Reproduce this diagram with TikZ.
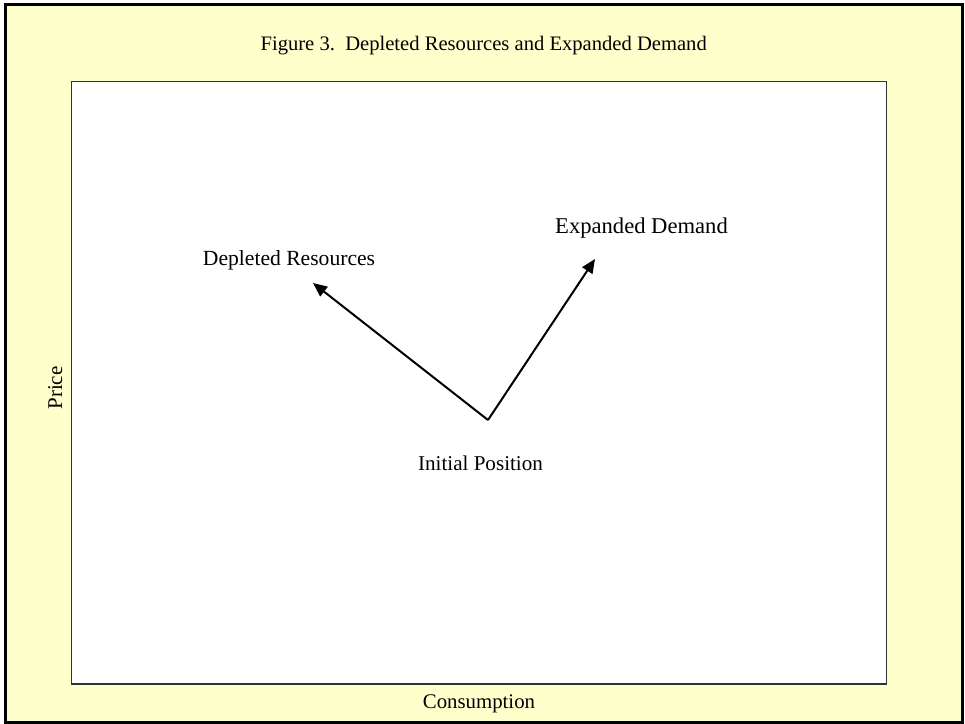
\documentclass[tikz,border=0pt]{standalone}
\usepackage{fontspec}
\setmainfont{Liberation Serif}
\usepackage{tikz}
\usetikzlibrary{arrows.meta,positioning}

\definecolor{paleyellow}{HTML}{FFFFCC}

\begin{document}
\begin{tikzpicture}[x=1pt,y=-1pt]
    \tikzstyle{chart text}=[inner sep=0pt,anchor=base];
    \tikzstyle{move}=[line width=2pt,-{Triangle[length=14pt,width=12pt]}];
    \useasboundingbox (0,0) rectangle (965,723);

    % Draw the outer frame and the plot area
    \draw[line width=3pt,fill=paleyellow] (5.5,4.5) rectangle (962.5,722);
    \draw[line width=1.5pt,draw=black!80,fill=white] (71.5,81.5) rectangle (886.5,684);

    % Titles of the chart and the axes
    \node[chart text,font=\fontsize{20.6}{24}\selectfont] (title) at (483.7,50)
      {Figure 3.\ \ Depleted Resources and Expanded Demand};
    \node[chart text,font=\fontsize{20.8}{24}\selectfont] (xlabel) at (479,708) {Consumption};
    \node[chart text,font=\fontsize{21}{24}\selectfont,rotate=90] (ylabel) at (62,388) {Price};

    % Points of the two moves
    \coordinate (init) at (488,420);
    \coordinate (dep) at (313,283);
    \coordinate (exp) at (595,259);

    % Labels of the points
    \node[chart text,font=\fontsize{21.1}{24}\selectfont] (initlbl) at (480.5,470) {Initial Position};
    \node[chart text,font=\fontsize{21.6}{24}\selectfont] (deplbl) at (289,265) {Depleted Resources};
    \node[chart text,font=\fontsize{22.6}{24}\selectfont] (explbl) at (641.5,233) {Expanded Demand};

    % Draw the moves from the initial position
    \draw[move] (init) -- (dep);
    \draw[move] (init) -- (exp);
\end{tikzpicture}
\end{document}
